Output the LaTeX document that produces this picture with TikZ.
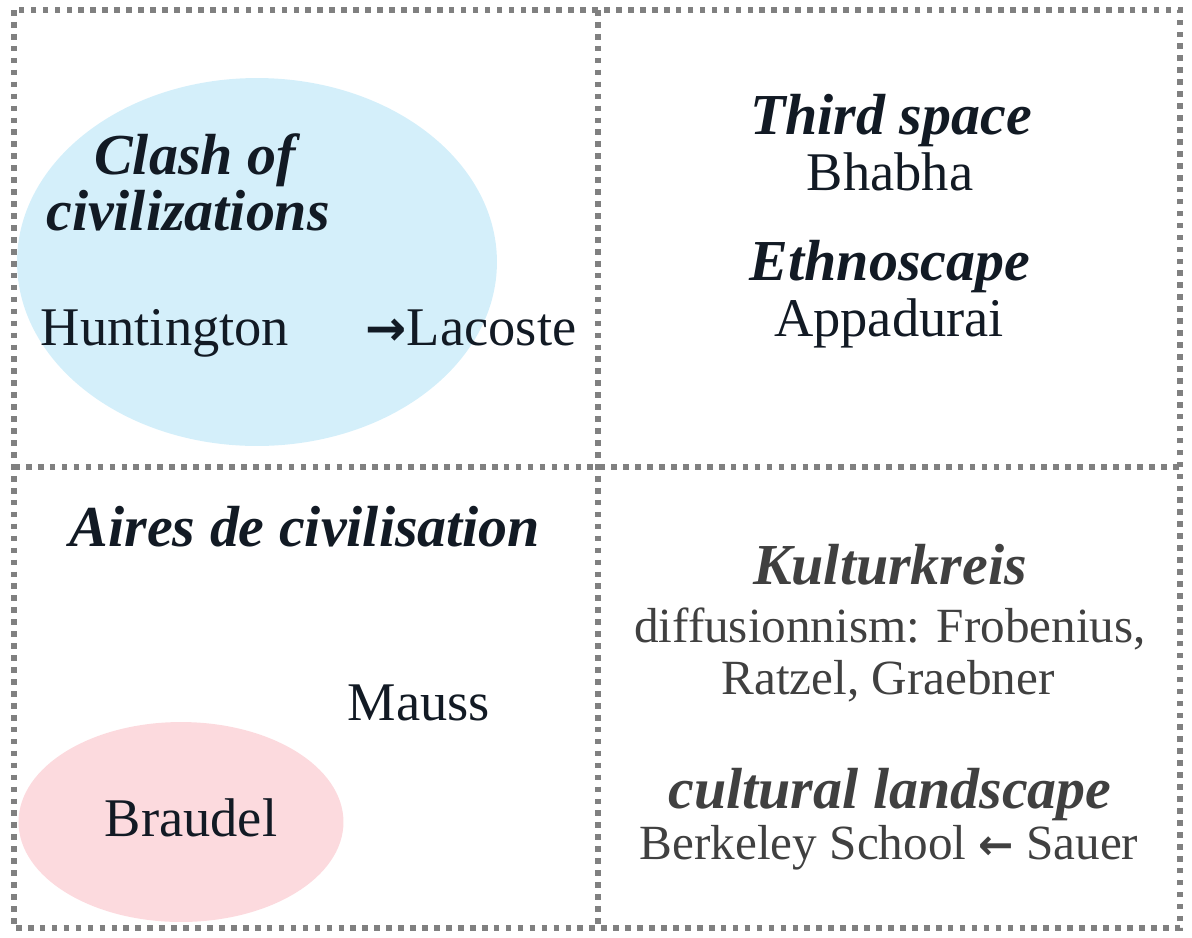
\documentclass[tikz,border=0pt]{standalone}
\usepackage{amsmath,amssymb}
\usepackage{fontspec}
\setmainfont{Liberation Serif}
\newfontfamily\arrowfont{DejaVu Sans}
\usetikzlibrary{shapes,positioning}
\definecolor{gridgray}{RGB}{128,128,128}
\definecolor{skyblue}{RGB}{212,239,250}
\definecolor{rosepink}{RGB}{252,218,222}
\definecolor{inkgray}{RGB}{64,64,64}
\definecolor{inkdark}{RGB}{18,26,36}
\tikzstyle{divider}=[draw=gridgray,line width=3.4pt,dash pattern=on 3.2pt off 3.6pt]
\tikzstyle{headword}=[anchor=base,inner sep=0pt,text=inkdark,font=\fontsize{33}{38}\selectfont\bfseries\itshape]
\tikzstyle{author}=[anchor=base,inner sep=0pt,text=inkdark,font=\fontsize{31}{36}\selectfont]
\tikzstyle{source}=[anchor=base,inner sep=0pt,text=inkgray,font=\fontsize{28}{33}\selectfont]
\tikzstyle{zone}=[shape=ellipse,inner sep=0pt]

\begin{document}
\begin{tikzpicture}[x=0.02cm,y=-0.02cm]
\useasboundingbox (0,0) rectangle (1192,937);

% shaded areas
\node[zone,fill=skyblue,minimum width=9.6cm,minimum height=7.36cm] (clash) at (257,262) {};
\node[zone,fill=rosepink,minimum width=6.5cm,minimum height=4cm] (aires) at (181,822) {};

% quadrants
\draw[divider] (14,10) rectangle (1180,928);
\draw[divider] (598,10) -- (598,928);
\draw[divider] (14,467) -- (1180,467);

% top left
\node[headword] (clashA) at (195,174) {Clash of};
\node[headword] (clashB) at (188,230) {civilizations};
\node[author] (huntington) at (165,345) {Huntington};
\node[author] (lacoste) at (471,345) {{\arrowfont\bfseries\fontsize{28}{30}\selectfont →}Lacoste};

% top right
\node[headword] (third) at (891,134) {Third space};
\node[author] (bhabha) at (890,190) {Bhabha};
\node[headword] (ethno) at (890,280) {Ethnoscape};
\node[author] (appadurai) at (889,336) {Appadurai};

% bottom left
\node[headword] (airesT) at (305,546) {Aires de civilisation};
\node[author] (mauss) at (419,720) {Mauss};
\node[author] (braudel) at (191,836) {Braudel};

% bottom right
\node[headword,text=inkgray] (kultur) at (890,584) {Kulturkreis};
\node[source] (diffA) at (890,642) {diffusionnism: Frobenius,};
\node[source] (diffB) at (888,694) {Ratzel, Graebner};
\node[headword,text=inkgray] (landscape) at (890,808) {cultural landscape};
\node[source] (berkeley) at (889,859) {Berkeley School {\arrowfont\bfseries\fontsize{24}{28}\selectfont ←} Sauer};
\end{tikzpicture}
\end{document}
